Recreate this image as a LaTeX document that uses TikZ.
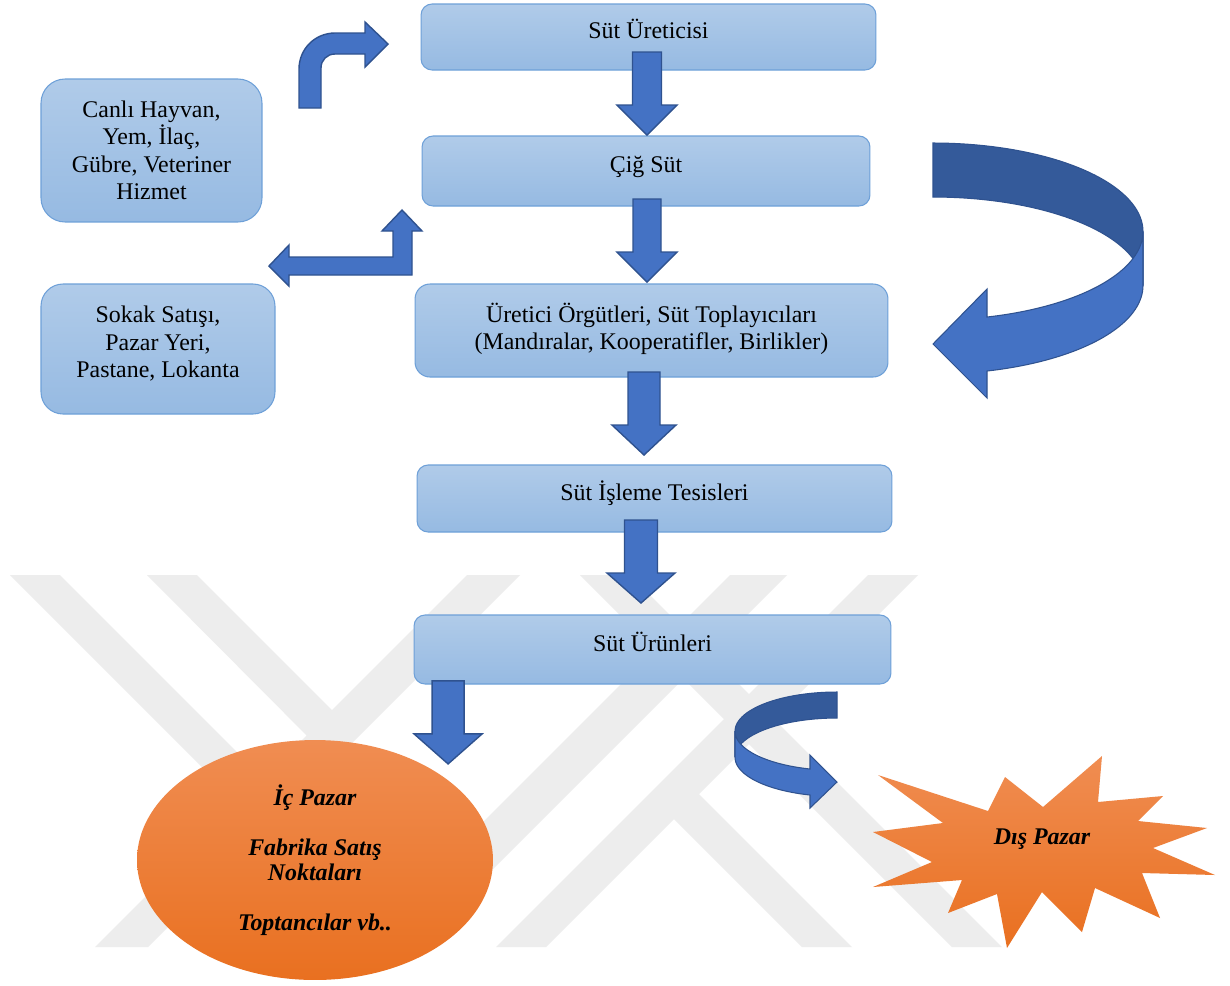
\documentclass[tikz,border=0pt]{standalone}
\usepackage{fontspec}
\setmainfont{Liberation Serif}
\usetikzlibrary{calc,shapes.geometric}

\definecolor{bleuhaut}{RGB}{176,203,233}
\definecolor{bleubas}{RGB}{150,186,226}
\definecolor{bleubord}{RGB}{110,160,216}
\definecolor{flechefond}{RGB}{68,114,196}
\definecolor{flechebord}{RGB}{47,82,143}
\definecolor{flechesombre}{RGB}{52,90,154}
\definecolor{orangehaut}{RGB}{240,141,82}
\definecolor{orangebas}{RGB}{233,112,32}
\definecolor{filigrane}{RGB}{237,237,237}

\newcommand{\flechebas}[3]{%
	\filldraw[bloc] (#1) -- ++(-#2,-30) -- ++(#2-#3,0) -- ++(0,-53) -- ++(2*#3,0) -- ++(0,53) -- ++(#2-#3,0) -- cycle;}

\begin{document}
\begin{tikzpicture}[x=0.02cm, y=-0.02cm]
			\tikzset{boite/.style={rectangle, rounded corners=0.22cm, draw=bleubord, line width=0.6pt, top color=bleuhaut, bottom color=bleubas, inner sep=0pt, outer sep=0pt, align=center, font=\fontsize{13.6pt}{15.6pt}\selectfont},
				ligne/.style={text height=10pt, text depth=7.8pt},
				bloc/.style={fill=flechefond, draw=flechebord, line width=0.8pt},
				ruban/.style={draw=flechebord, line width=0.6pt},
				gras/.style={font=\fontsize{13.6pt}{14.2pt}\selectfont\bfseries\itshape}};

			\path[use as bounding box, fill=white] (0,0) rectangle (1230,985);

			\fill[filigrane] (10,575) -- (60,575) -- (263,778) -- (238,803) -- cycle
				(147,575) -- (197,575) -- (332,710) -- (333,762) -- cycle
				(467,575) -- (520,575) -- (148,947) -- (95,947) -- cycle
				(580,575) -- (630,575) -- (1002,947) -- (952,947) -- cycle
				(730,575) -- (787,575) -- (415,947) -- (358,947) -- cycle
				(868,575) -- (918,575) -- (546,947) -- (496,947) -- cycle
				(674,769) -- (852,947) -- (802,947) -- (674,819) -- cycle;

			\node[boite, ligne, minimum width=9.1cm, minimum height=1.32cm] (prod) at (648.5,37) {Süt Üreticisi};
			\node[boite, ligne, minimum width=8.96cm, minimum height=1.4cm] (cig) at (646,171) {Çiğ Süt};
			\node[boite, rounded corners=0.3cm, minimum width=9.46cm, minimum height=1.86cm] (orgut) at (651.5,330.5) {Üretici Örgütleri, Süt Toplayıcıları\\(Mandıralar, Kooperatifler, Birlikler)\rule[-4.5pt]{0pt}{0pt}};
			\node[boite, ligne, minimum width=9.5cm, minimum height=1.34cm] (isleme) at (654.5,498.5) {Süt İşleme Tesisleri};
			\node[boite, ligne, minimum width=9.54cm, minimum height=1.38cm] (urun) at (652.5,649.5) {Süt Ürünleri};
			\node[boite, rounded corners=0.48cm, minimum width=4.42cm, minimum height=2.86cm] (girdi) at (151.5,150.5) {Canlı Hayvan,\\Yem, İlaç,\\Gübre, Veteriner\\Hizmet};
			\node[boite, rounded corners=0.44cm, minimum width=4.68cm, minimum height=2.6cm] (satis) at (158,349) {Sokak Satışı,\\Pazar Yeri,\\Pastane, Lokanta\rule[-8pt]{0pt}{0pt}};

			\node[ellipse, gras, top color=orangehaut, bottom color=orangebas, minimum width=7.12cm, minimum height=4.8cm, inner sep=0pt, align=center] (icpazar) at (315,860) {İç Pazar\\[14.2pt]Fabrika Satış\\Noktaları\\[14.2pt]Toptancılar vb..};

			\shade[top color=orangehaut, bottom color=orangebas] (878,775) -- (988,811) -- (1005,777) -- (1043,807) -- (1102,756) -- (1098,802) -- (1163,796) -- (1138,821) -- (1207,828) -- (1153,848) -- (1215,875) -- (1142,873) -- (1160,918) -- (1095,888) -- (1082,932) -- (1042,892) -- (1007,948) -- (997,894) -- (948,913) -- (962,880) -- (873,887) -- (932,862) -- (873,832) -- (943,823) -- cycle;
			\node[gras] (dispazar) at (1042,839) {Dış Pazar};

			\flechebas{$(cig.north)+(1,-1)$}{30}{14.5}
			\flechebas{$(orgut.north)+(-4.5,-2)$}{30}{14}
			\flechebas{$(isleme.north)+(-10.5,-10)$}{32}{16}
			\flechebas{$(urun.north)+(-11.5,-12)$}{34}{16.5}
			\flechebas{$(icpazar.north east)+(7,-11)$}{34}{16}

			\filldraw[bloc] (388,44) -- (365,67) -- (365,54) -- (335,54) .. controls (327,54) and (321,60) .. (321,68) -- (321,108) -- (299,108) -- (299,69) .. controls (299,49) and (315,33) .. (335,33) -- (365,33) -- (365,22) -- cycle;
			\filldraw[bloc] (402,210) -- (422,231) -- (412,231) -- (412,275) -- (289,275) -- (289,286) -- (269,266) -- (289,245) -- (289,257) -- (393,257) -- (393,231) -- (382,231) -- cycle;

			\filldraw[ruban, fill=flechesombre] plot[domain=90:0, samples=40] ({933+210*cos(\x)},{231.5-88.5*sin(\x)}) -- plot[domain=0:90, samples=40] ({933+210*cos(\x)},{285.5-88.5*sin(\x)}) -- cycle;
			\filldraw[ruban, fill=flechefond] plot[domain=75.1:0, samples=40] ({933+210*cos(\x)},{231.5+88.5*sin(\x)}) -- plot[domain=0:75.1, samples=40] ({933+210*cos(\x)},{285.5+88.5*sin(\x)}) -- (987,398) -- (933,344) -- (987,289) -- cycle;

			\filldraw[ruban, fill=flechesombre] plot[domain=90:0, samples=30] ({837-102*cos(\x)},{731.2-39.2*sin(\x)}) -- plot[domain=0:90, samples=30] ({837-102*cos(\x)},{757.2-39.2*sin(\x)}) -- cycle;
			\filldraw[ruban, fill=flechefond] plot[domain=74.65:0, samples=30] ({837-102*cos(\x)},{731.2+39.2*sin(\x)}) -- plot[domain=0:74.65, samples=30] ({837-102*cos(\x)},{757.2+39.2*sin(\x)}) -- (810,808) -- (837,782) -- (810,755) -- cycle;

		\end{tikzpicture}
\end{document}
